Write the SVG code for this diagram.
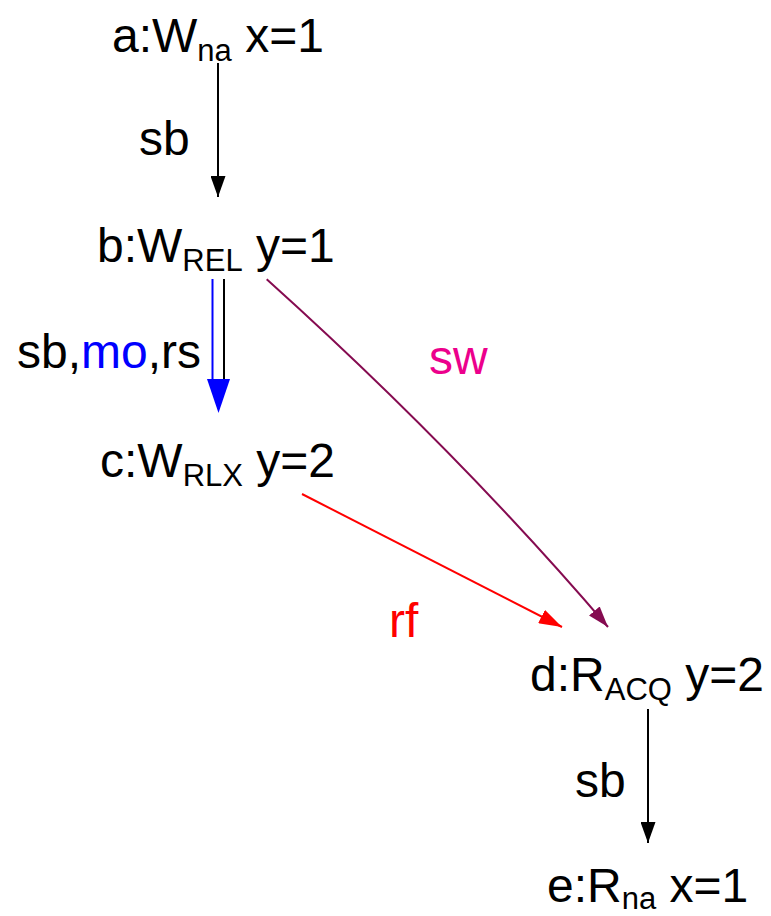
<svg xmlns="http://www.w3.org/2000/svg" width="771" height="916" viewBox="0 0 771 916">
<style>
text{font-family:"Liberation Sans",Arial,sans-serif;fill:#000}
.n{font-size:48px}
.s{font-size:31px}
.l{font-size:48px}
.e{fill:none;stroke-width:2}
</style>
<defs>
<marker id="ak" markerUnits="userSpaceOnUse" markerWidth="21" markerHeight="15" refX="21" refY="7.5" orient="auto"><path d="M0,0L21,7.5L0,15z" fill="#000"/></marker>
<marker id="ar" markerUnits="userSpaceOnUse" markerWidth="23" markerHeight="15" refX="23" refY="7.5" orient="auto"><path d="M0,0L23,7.5L0,15z" fill="#f00"/></marker>
<marker id="ap" markerUnits="userSpaceOnUse" markerWidth="21" markerHeight="14" refX="21" refY="7" orient="auto"><path d="M0,0L21,7L0,14z" fill="#850b50"/></marker>
</defs>
<g id="connectors">
<g id="e-ab"><line class="e" x1="218" y1="63" x2="218" y2="197" stroke="#000" marker-end="url(#ak)"/><text class="l" x="139" y="155">sb</text></g>
<g id="e-bc"><line class="e" x1="212.5" y1="279" x2="212.5" y2="381" stroke="#00f"/><line class="e" x1="224" y1="279" x2="224" y2="381" stroke="#000"/><polygon points="207,379 230,379 218.5,413" fill="#00f"/><text class="l" x="17" y="368">sb,<tspan style="fill:#00f">mo</tspan>,rs</text></g>
<g id="e-bd"><path class="e" d="M266.7,279.3Q457.7,451.2 608,627" stroke="#850b50" marker-end="url(#ap)"/><text class="l" x="429" y="374" style="fill:#ec008c">sw</text></g>
<g id="e-cd"><path class="e" d="M302,494L562,627" stroke="#f00" marker-end="url(#ar)"/><text class="l" x="389" y="637" style="fill:#f00">rf</text></g>
<g id="e-de"><line class="e" x1="648" y1="709" x2="648" y2="843" stroke="#000" marker-end="url(#ak)"/><text class="l" x="575" y="797">sb</text></g>
</g>
<g id="a"><text class="n" x="112" y="52">a:W<tspan class="s" dy="9">na</tspan><tspan dy="-9"> x=1</tspan></text></g>
<g id="b"><text class="n" x="97" y="262">b:W<tspan class="s" dy="9">REL</tspan><tspan dy="-9"> y=1</tspan></text></g>
<g id="c"><text class="n" x="100" y="477">c:W<tspan class="s" dy="9">RLX</tspan><tspan dy="-9"> y=2</tspan></text></g>
<g id="d"><text class="n" x="530" y="691">d:R<tspan class="s" dy="9">ACQ</tspan><tspan dy="-9"> y=2</tspan></text></g>
<g id="e"><text class="n" x="547" y="902">e:R<tspan class="s" dy="7">na</tspan><tspan dy="-7"> x=1</tspan></text></g>
</svg>
